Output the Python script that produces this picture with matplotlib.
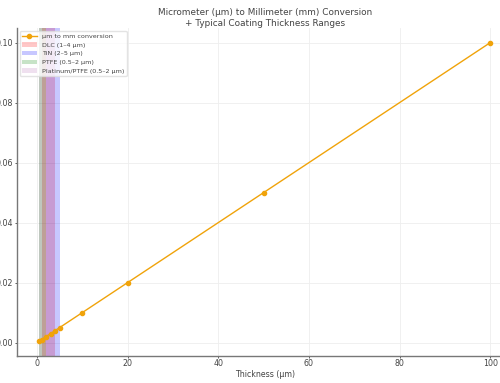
import numpy as np
import matplotlib.pyplot as plt

# conversion data
microns = [0.5, 1, 2, 3, 4, 5, 10, 20, 50, 100]
millimeters = [0.0005, 0.001, 0.002, 0.003, 0.004, 0.005, 0.01, 0.02, 0.05, 0.1]

# coating ranges (um)
coating_names = ['DLC (1–4 µm)', 'TiN (2–5 µm)', 'PTFE (0.5–2 µm)', 'Platinum/PTFE (0.5–2 µm)']
coating_lo = [1, 2, 0.5, 0.5]
coating_hi = [4, 5, 2, 2]
coating_colors = ['red', 'blue', 'green', 'purple']
coating_alpha = [0.22, 0.22, 0.22, 0.12]

txt = '#444444'
plt.rcParams['font.family'] = 'DejaVu Sans'

fig = plt.figure(figsize=(5, 3.83), dpi=100)
ax = fig.add_axes([0.0334, 0.0705, 0.992, 0.857])
ax.set_axisbelow(True)

ax.plot(microns, millimeters, marker='o', markersize=3, color='#f0a30a',
        linewidth=1, label='µm to mm conversion')
for name, lo, hi, c, a in zip(coating_names, coating_lo, coating_hi, coating_colors, coating_alpha):
    ax.axvspan(lo, hi, color=c, alpha=a, label=name, linewidth=0)

ax.set_title('Micrometer (µm) to Millimeter (mm) Conversion\n+ Typical Coating Thickness Ranges',
             fontsize=6.4, color=txt, pad=1.5, linespacing=1.3)
ax.set_xlabel('Thickness (µm)', fontsize=5.7, color=txt, labelpad=1)
ax.set_xticks([0, 20, 40, 60, 80, 100])
ax.set_yticks([0.0, 0.02, 0.04, 0.06, 0.08, 0.10])
ax.set_yticklabels(['0.00', '0.02', '0.04', '0.06', '0.08', '0.10'])
ax.tick_params(labelsize=5.7, colors=txt, length=1.5, width=0.6, pad=1)
ax.grid(True, color='#eeeeee', linewidth=0.6)
for s in ['top', 'right']:
    ax.spines[s].set_visible(False)
for s in ['left', 'bottom']:
    ax.spines[s].set_color('#777777')
    ax.spines[s].set_linewidth(1)

ax.legend(loc='upper left', fontsize=4.6, frameon=True, framealpha=0.8,
          edgecolor='#dddddd', labelcolor=txt, handlelength=2.2)

fig.savefig('out.png', dpi=100)
